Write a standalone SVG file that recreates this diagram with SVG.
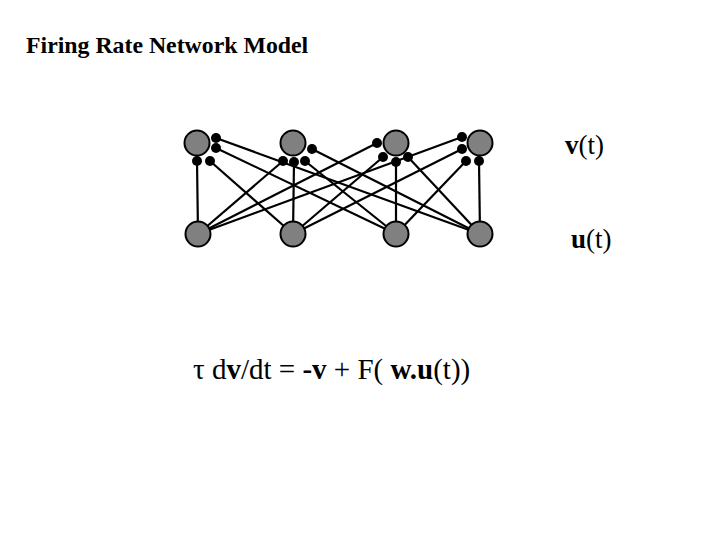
<svg xmlns="http://www.w3.org/2000/svg" width="720" height="540" viewBox="0 0 720 540">
<style>
.t{font-family:"Liberation Serif","Times New Roman",serif;fill:#000}
.w{stroke:#000;stroke-width:2.2;fill:none}
.n{fill:#808080;stroke:#000;stroke-width:2}
.d{fill:#000}
</style>
<rect width="720" height="540" fill="#fff"/>
<text class="t" x="26" y="53" font-size="23.8" font-weight="bold">Firing Rate Network Model</text>
<g id="connectors">
<line class="w" x1="198" y1="234" x2="197" y2="161"/>
<line class="w" x1="293" y1="234" x2="210" y2="161"/>
<line class="w" x1="396" y1="234" x2="216" y2="148"/>
<line class="w" x1="480" y1="234" x2="216" y2="138"/>
<line class="w" x1="198" y1="234" x2="283" y2="161"/>
<line class="w" x1="293" y1="234" x2="294" y2="162"/>
<line class="w" x1="396" y1="234" x2="305" y2="161"/>
<line class="w" x1="480" y1="234" x2="312" y2="149"/>
<line class="w" x1="198" y1="234" x2="377" y2="143"/>
<line class="w" x1="293" y1="234" x2="383" y2="157"/>
<line class="w" x1="396" y1="234" x2="396" y2="162"/>
<line class="w" x1="480" y1="234" x2="408" y2="157"/>
<line class="w" x1="198" y1="234" x2="462" y2="137"/>
<line class="w" x1="293" y1="234" x2="462" y2="149"/>
<line class="w" x1="396" y1="234" x2="466" y2="161"/>
<line class="w" x1="480" y1="234" x2="479" y2="161"/>
</g>
<g id="v1"><circle class="n" cx="197" cy="143" r="12.5"/>
<circle class="d" cx="216" cy="138" r="5"/><circle class="d" cx="216" cy="148" r="5"/><circle class="d" cx="197" cy="161" r="5"/><circle class="d" cx="210" cy="161" r="5"/></g>
<g id="v2"><circle class="n" cx="293" cy="143" r="12.5"/>
<circle class="d" cx="312" cy="149" r="5"/><circle class="d" cx="283" cy="161" r="5"/><circle class="d" cx="294" cy="162" r="5"/><circle class="d" cx="305" cy="161" r="5"/></g>
<g id="v3"><circle class="n" cx="396" cy="143" r="12.5"/>
<circle class="d" cx="377" cy="143" r="5"/><circle class="d" cx="383" cy="157" r="5"/><circle class="d" cx="396" cy="162" r="5"/><circle class="d" cx="408" cy="157" r="5"/></g>
<g id="v4"><circle class="n" cx="480" cy="143" r="12.5"/>
<circle class="d" cx="462" cy="137" r="5"/><circle class="d" cx="462" cy="149" r="5"/><circle class="d" cx="466" cy="161" r="5"/><circle class="d" cx="479" cy="161" r="5"/></g>
<g id="u1"><circle class="n" cx="198" cy="234" r="12.5"/></g>
<g id="u2"><circle class="n" cx="293" cy="234" r="12.5"/></g>
<g id="u3"><circle class="n" cx="396" cy="234" r="12.5"/></g>
<g id="u4"><circle class="n" cx="480" cy="234" r="12.5"/></g>
<text class="t" x="565" y="154" font-size="27"><tspan font-weight="bold">v</tspan>(t)</text>
<text class="t" x="571" y="248" font-size="27"><tspan font-weight="bold">u</tspan>(t)</text>
<text class="t" x="193" y="379" font-size="29"><tspan>τ</tspan> d<tspan font-weight="bold">v</tspan>/dt = <tspan font-weight="bold">-v</tspan> + F( <tspan font-weight="bold">w.u</tspan>(t))</text>
</svg>
